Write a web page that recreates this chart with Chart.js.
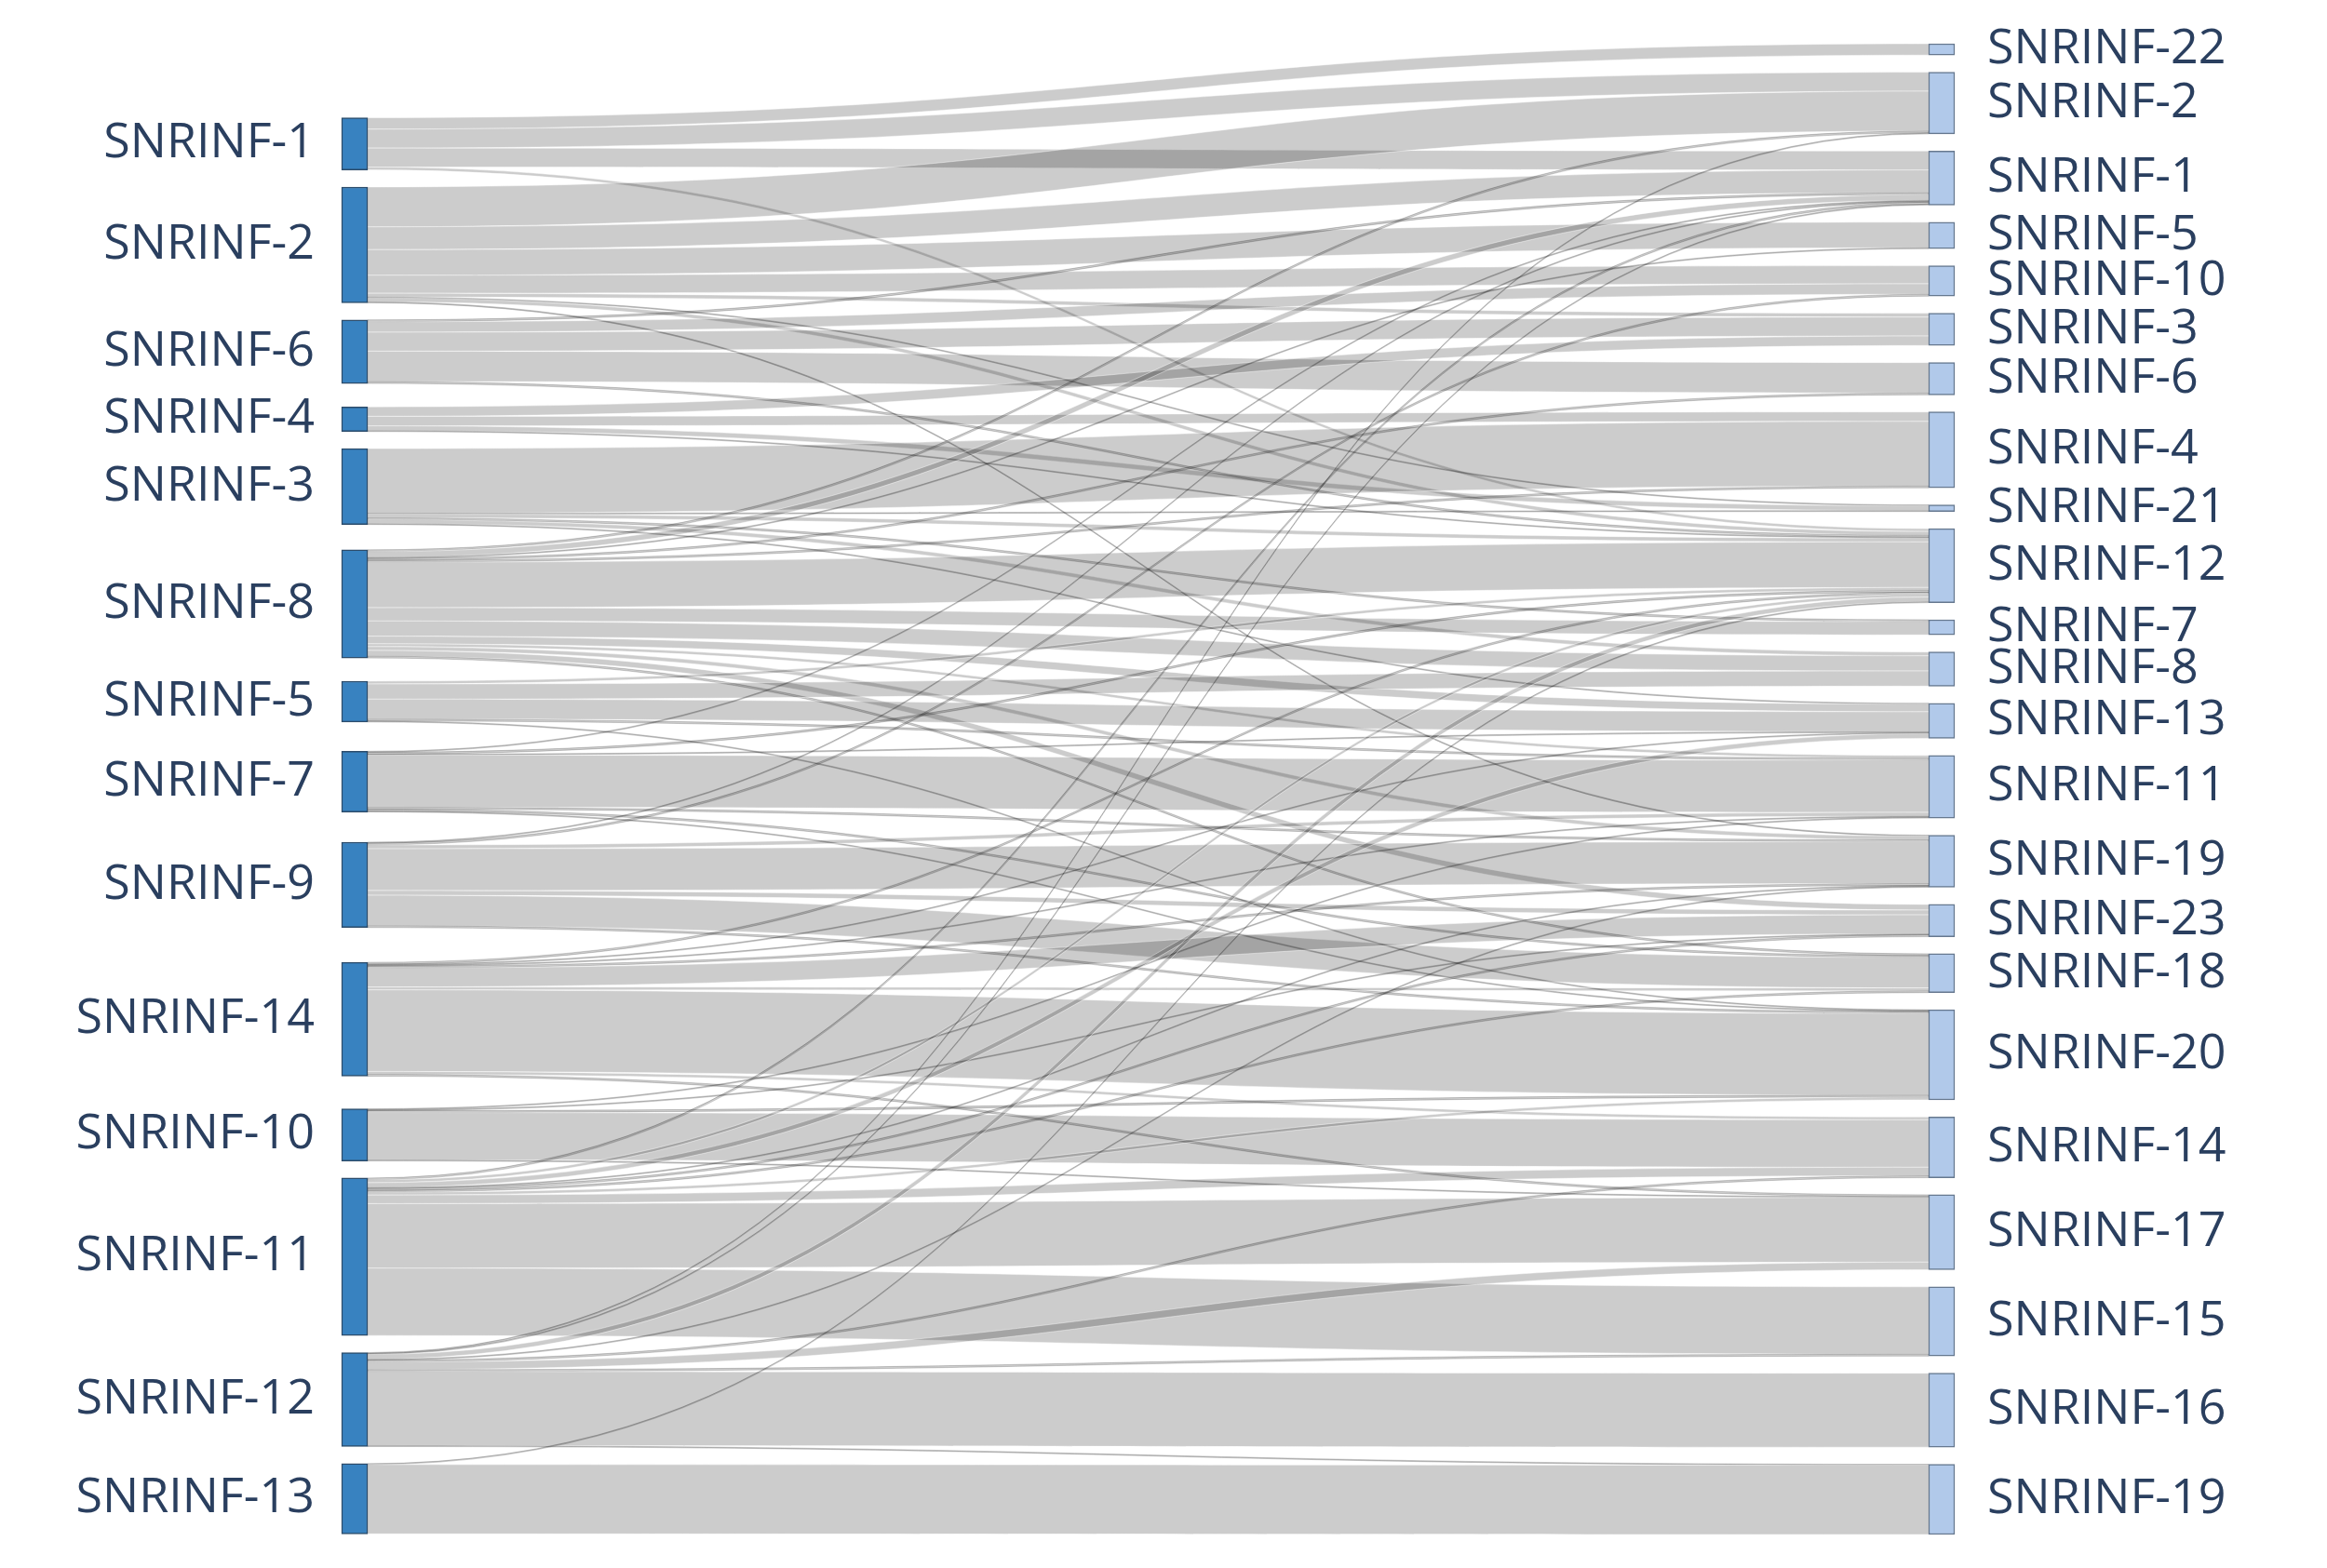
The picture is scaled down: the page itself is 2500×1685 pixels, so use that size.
<!DOCTYPE html>
<html>
<head>
<meta charset="utf-8">
<script src="https://cdn.jsdelivr.net/npm/chart.js@4.4.1/dist/chart.umd.min.js"></script>
<style>
  html, body { margin: 0; padding: 0; background: #ffffff; }
</style>
</head>
<body>
<canvas id="sankey" width="2500" height="1685"></canvas>
<script>
// left column, top to bottom
const sourceLabels = ['SNRINF-1', 'SNRINF-2', 'SNRINF-6', 'SNRINF-4', 'SNRINF-3', 'SNRINF-8', 'SNRINF-5',
  'SNRINF-7', 'SNRINF-9', 'SNRINF-14', 'SNRINF-10', 'SNRINF-11', 'SNRINF-12', 'SNRINF-13'];

// right column, top to bottom (SNRINF-19 appears twice, two different nodes)
const targetLabels = ['SNRINF-22', 'SNRINF-2', 'SNRINF-1', 'SNRINF-5', 'SNRINF-10', 'SNRINF-3', 'SNRINF-6',
  'SNRINF-4', 'SNRINF-21', 'SNRINF-12', 'SNRINF-7', 'SNRINF-8', 'SNRINF-13', 'SNRINF-11', 'SNRINF-19',
  'SNRINF-23', 'SNRINF-18', 'SNRINF-20', 'SNRINF-14', 'SNRINF-17', 'SNRINF-15', 'SNRINF-16', 'SNRINF-19'];

// [source index, target index, value]
const flows = [
  [0, 0, 12], [0, 1, 20], [0, 2, 20], [0, 9, 3],
  [1, 1, 42], [1, 2, 24], [1, 3, 27], [1, 4, 19], [1, 5, 4], [1, 8, 1], [1, 9, 4], [1, 14, 1],
  [2, 2, 2], [2, 4, 11], [2, 5, 20], [2, 6, 32], [2, 9, 2],
  [3, 5, 10], [3, 7, 10], [3, 8, 5], [3, 9, 1],
  [4, 7, 68], [4, 8, 1], [4, 9, 4], [4, 10, 2], [4, 11, 4], [4, 12, 1],
  [5, 1, 2], [5, 2, 6], [5, 3, 1], [5, 6, 2], [5, 7, 2], [5, 9, 48], [5, 10, 14], [5, 11, 16], [5, 12, 8],
  [5, 13, 3], [5, 14, 4], [5, 15, 6], [5, 16, 2],
  [6, 9, 3], [6, 11, 16], [6, 12, 21], [6, 13, 2], [6, 17, 1],
  [7, 2, 1], [7, 9, 2], [7, 12, 1], [7, 13, 55], [7, 14, 2], [7, 16, 2], [7, 17, 1],
  [8, 2, 1], [8, 4, 2], [8, 13, 4], [8, 14, 44], [8, 15, 5], [8, 16, 32], [8, 17, 2],
  [9, 9, 2], [9, 12, 1], [9, 13, 1], [9, 14, 2], [9, 15, 20], [9, 16, 3], [9, 17, 86], [9, 18, 3], [9, 19, 2],
  [10, 13, 1], [10, 15, 1], [10, 17, 2], [10, 18, 50], [10, 19, 1],
  [11, 2, 2], [11, 9, 3], [11, 12, 5], [11, 14, 1], [11, 15, 2], [11, 16, 2], [11, 17, 3], [11, 18, 9],
  [11, 19, 68], [11, 20, 71],
  [12, 1, 1], [12, 2, 1], [12, 9, 5], [12, 14, 1], [12, 18, 2], [12, 19, 8], [12, 20, 2], [12, 21, 78], [12, 22, 1],
  [13, 9, 1], [13, 22, 73]
];

const NODE_PAD = 18;   // gap between nodes, value units
const NODE_W = 28;     // px
const GAP_LEFT = 29;   // label gap, px
const GAP_RIGHT = 35;

// node sizes
const outSum = sourceLabels.map(() => 0);
const inSum = targetLabels.map(() => 0);
flows.forEach(([s, t, v]) => { outSum[s] += v; inSum[t] += v; });
const total = inSum.reduce((a, b) => a + b, 0);
const yMax = total + NODE_PAD * (targetLabels.length - 1);

// right column fills the height
const rTop = [];
let acc = 0;
inSum.forEach(v => { rTop.push(acc); acc += v + NODE_PAD; });
const rMid = rTop.map((t, j) => t + inSum[j] / 2);

const links = flows.map(([s, t, v]) => ({ s, t, v }));

// left nodes sit at the weighted centre of their targets, then overlaps are pushed apart
const lTop = sourceLabels.map((_, i) => {
  const ls = links.filter(l => l.s === i);
  const c = ls.reduce((a, l) => a + l.v * rMid[l.t], 0) / outSum[i];
  return c - outSum[i] / 2;
});
let yy = 0;
lTop.forEach((t, i) => { if (t < yy) lTop[i] = yy; yy = lTop[i] + outSum[i] + NODE_PAD; });
yy = yMax;
for (let i = lTop.length - 1; i >= 0; i--) {
  if (lTop[i] + outSum[i] > yy) lTop[i] = yy - outSum[i];
  yy = lTop[i] - NODE_PAD;
}

// link ends: ordered by target at the source, by source at the target
sourceLabels.forEach((_, i) => {
  let y = lTop[i];
  links.filter(l => l.s === i).sort((a, b) => a.t - b.t).forEach(l => {
    l.sy0 = y; y += l.v; l.sy1 = y;
  });
});
targetLabels.forEach((_, j) => {
  let y = rTop[j];
  links.filter(l => l.t === j).sort((a, b) => a.s - b.s).forEach(l => {
    l.ty0 = y; y += l.v; l.ty1 = y;
  });
});

const nodeData = [];
const nodeFill = [];
const nodeLine = [];
const nodeText = [];
sourceLabels.forEach((name, i) => {
  nodeData.push({ x: 0, y: [lTop[i], lTop[i] + outSum[i]] });
  nodeFill.push('#3882c0'); nodeLine.push('#2c4c6b'); nodeText.push(name);
});
targetLabels.forEach((name, j) => {
  nodeData.push({ x: 1, y: [rTop[j], rTop[j] + inSum[j]] });
  nodeFill.push('#b1c9ea'); nodeLine.push('#66788f'); nodeText.push(name);
});

const linkPlugin = {
  id: 'links',
  beforeDatasetsDraw(chart) {
    const ctx = chart.ctx;
    const xs = chart.scales.x, ys = chart.scales.y;
    const x0 = xs.getPixelForValue(0) + NODE_W / 2;
    const x1 = xs.getPixelForValue(1) - NODE_W / 2;
    const xm = (x0 + x1) / 2;
    const py = v => ys.getPixelForValue(v);
    ctx.save();
    links.forEach(l => {
      const a0 = py(l.sy0), a1 = py(l.sy1), b0 = py(l.ty0), b1 = py(l.ty1);
      ctx.beginPath();
      ctx.moveTo(x0, a0);
      ctx.bezierCurveTo(xm, a0, xm, b0, x1, b0);
      ctx.lineTo(x1, b1);
      ctx.bezierCurveTo(xm, b1, xm, a1, x0, a1);
      ctx.closePath();
      ctx.fillStyle = 'rgba(0,0,0,0.2)';
      ctx.fill();
      if (a1 - a0 < 3) {
        ctx.strokeStyle = 'rgba(0,0,0,0.18)';
        ctx.lineWidth = 1;
        ctx.stroke();
      } else {
        // light seam along the edges
        ctx.strokeStyle = 'rgba(255,255,255,0.55)';
        ctx.lineWidth = 0.8;
        ctx.beginPath();
        ctx.moveTo(x0, a0);
        ctx.bezierCurveTo(xm, a0, xm, b0, x1, b0);
        ctx.moveTo(x0, a1);
        ctx.bezierCurveTo(xm, a1, xm, b1, x1, b1);
        ctx.stroke();
      }
    });
    ctx.restore();
  },
  afterDatasetsDraw(chart) {
    const ctx = chart.ctx;
    const meta = chart.getDatasetMeta(0);
    ctx.save();
    ctx.font = '52px "Open Sans", "Noto Sans", sans-serif';
    ctx.fillStyle = '#2a3f5f';
    ctx.textBaseline = 'middle';
    meta.data.forEach((bar, k) => {
      const cy = (bar.y + bar.base) / 2;
      if (nodeData[k].x === 0) {
        ctx.textAlign = 'right';
        ctx.fillText(nodeText[k], bar.x - NODE_W / 2 - GAP_LEFT, cy);
      } else {
        ctx.textAlign = 'left';
        ctx.fillText(nodeText[k], bar.x + NODE_W / 2 + GAP_RIGHT, cy);
      }
    });
    ctx.restore();
  }
};

new Chart(document.getElementById('sankey'), {
  type: 'bar',
  data: {
    datasets: [{
      data: nodeData,
      backgroundColor: nodeFill,
      borderColor: nodeLine,
      borderWidth: 1.5,
      borderSkipped: false,
      barThickness: NODE_W,
      clip: false
    }]
  },
  options: {
    responsive: false,
    animation: false,
    devicePixelRatio: 1,
    layout: { padding: { left: 381, right: 414, top: 47, bottom: 36 } },
    plugins: { legend: { display: false }, tooltip: { enabled: false } },
    scales: {
      x: { type: 'linear', min: 0, max: 1, offset: false, display: false },
      y: { type: 'linear', min: 0, max: yMax, reverse: true, display: false }
    }
  },
  plugins: [linkPlugin]
});
</script>
</body>
</html>
